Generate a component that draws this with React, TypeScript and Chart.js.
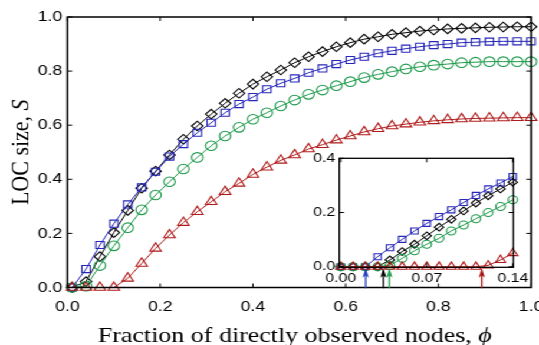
import React, { useEffect, useRef } from 'react';
import { Chart, registerables } from 'chart.js';

Chart.register(...registerables);

// ---------- data ----------
const phiMain = [0.01, 0.04, 0.07, 0.10, 0.13, 0.16, 0.19, 0.22, 0.25, 0.28, 0.31, 0.34, 0.37, 0.40, 0.43, 0.46, 0.49,
  0.52, 0.55, 0.58, 0.61, 0.64, 0.67, 0.70, 0.73, 0.76, 0.79, 0.82, 0.85, 0.88, 0.91, 0.94, 0.97, 1.00];

const mainBlack = [0, 0.022, 0.114, 0.203, 0.285, 0.367, 0.430, 0.490, 0.548, 0.597, 0.641, 0.681, 0.718, 0.752, 0.779,
  0.804, 0.831, 0.853, 0.872, 0.890, 0.905, 0.918, 0.927, 0.936, 0.942, 0.948, 0.952, 0.956, 0.958, 0.960, 0.962, 0.963, 0.964, 0.964];
const mainBlue = [0, 0.068, 0.157, 0.236, 0.307, 0.370, 0.428, 0.484, 0.530, 0.572, 0.609, 0.646, 0.678, 0.704, 0.733,
  0.755, 0.773, 0.794, 0.810, 0.826, 0.841, 0.853, 0.866, 0.875, 0.883, 0.890, 0.896, 0.900, 0.905, 0.907, 0.909, 0.910, 0.910, 0.910];
const mainGreen = [0, 0.005, 0.081, 0.154, 0.221, 0.287, 0.342, 0.391, 0.438, 0.481, 0.524, 0.560, 0.592, 0.622, 0.646,
  0.671, 0.693, 0.714, 0.730, 0.746, 0.761, 0.776, 0.788, 0.798, 0.808, 0.816, 0.822, 0.826, 0.831, 0.833, 0.835, 0.835, 0.835, 0.835];
const mainRed = [0, 0, 0, 0, 0.034, 0.089, 0.145, 0.194, 0.240, 0.280, 0.317, 0.354, 0.385, 0.418, 0.445, 0.470, 0.490,
  0.512, 0.528, 0.545, 0.560, 0.575, 0.587, 0.597, 0.604, 0.611, 0.616, 0.620, 0.623, 0.625, 0.626, 0.627, 0.628, 0.628];

const phiInset = [0, 0.01, 0.02, 0.03, 0.04, 0.05, 0.06, 0.07, 0.08, 0.09, 0.10, 0.11, 0.12, 0.13, 0.14];
const insetBlack = [0, 0, 0, 0, 0.025, 0.056, 0.083, 0.114, 0.146, 0.175, 0.206, 0.235, 0.262, 0.287, 0.312];
const insetBlue = [0, 0, 0, 0.037, 0.070, 0.101, 0.132, 0.160, 0.185, 0.210, 0.237, 0.263, 0.287, 0.309, 0.333];
const insetGreen = [0, 0, 0, 0, 0.005, 0.031, 0.059, 0.083, 0.105, 0.132, 0.154, 0.177, 0.200, 0.222, 0.247];
const insetRed = [0, 0, 0, 0, 0, 0, 0, 0, 0, 0, 0, 0, 0.005, 0.025, 0.050];

// critical thresholds marked by arrows in the inset (blue, black, green, red)
const thresholdValues = [0.0203, 0.0347, 0.0396, 0.1148];

const mainXTicks = [0, 0.2, 0.4, 0.6, 0.8, 1.0];
const mainXTickLabels = ['0.0', '0.2', '0.4', '0.6', '0.8', '1.0'];
const mainYTicks = [0, 0.2, 0.4, 0.6, 0.8, 1.0];
const mainYTickLabels = ['0.0', '0.2', '0.4', '0.6', '0.8', '1.0'];
const insetXTicks = [0, 0.07, 0.14];
const insetXTickLabels = ['0.00', '0.07', '0.14'];
const insetYTicks = [0, 0.2, 0.4];
const insetYTickLabels = ['0.0', '0.2', '0.4'];

const xTitleText = 'Fraction of directly observed nodes, ';
const xTitleSymbol = '\u03D5';
const yTitleText = 'LOC size, ';
const yTitleSymbol = 'S';

// ---------- style ----------
const BLACK = '#000000';
const BLUE = '#2626b8';
const GREEN = '#1c9a4a';
const RED = '#b01a1a';
const ARROW_COLORS = ['#2040c0', '#000000', '#20a050', '#a81414'];

const W = 457; // internal width, stretched horizontally to 539
const H = 345;
const S = 539 / W;
const TICK_FONT = 'Liberation Sans';
const TITLE_FONT = 'Liberation Serif';

const pts = (xs: number[], ys: number[]) => xs.map((x, i) => ({ x, y: ys[i] }));

function frame(xTicks: number[], yTicks: number[], len: number, lw: number) {
  return {
    id: 'frame',
    afterDatasetsDraw(chart: any) {
      const { ctx, chartArea: a, scales } = chart;
      ctx.save();
      ctx.strokeStyle = '#000';
      ctx.lineWidth = lw;
      ctx.strokeRect(a.left, a.top, a.right - a.left, a.bottom - a.top);
      ctx.lineWidth = 1;
      ctx.beginPath();
      xTicks.forEach((v) => {
        const px = scales.x.getPixelForValue(v);
        ctx.moveTo(px, a.bottom); ctx.lineTo(px, a.bottom - len);
        ctx.moveTo(px, a.top); ctx.lineTo(px, a.top + len);
      });
      yTicks.forEach((v) => {
        const py = scales.y.getPixelForValue(v);
        ctx.moveTo(a.left, py); ctx.lineTo(a.left + len, py);
        ctx.moveTo(a.right, py); ctx.lineTo(a.right - len, py);
      });
      ctx.stroke();
      ctx.restore();
    },
  };
}

function drawMixed(ctx: CanvasRenderingContext2D, parts: [string, string][], cx: number, y: number, size: number) {
  const fonts = parts.map(([, st]) => `${st} ${size}px "${TITLE_FONT}"`);
  let total = 0;
  const widths = parts.map(([t], i) => { ctx.font = fonts[i]; const w = ctx.measureText(t).width; total += w; return w; });
  let x = cx - total / 2;
  ctx.textAlign = 'left';
  ctx.textBaseline = 'alphabetic';
  parts.forEach(([t], i) => { ctx.font = fonts[i]; ctx.fillText(t, x, y); x += widths[i]; });
}

const titlesPlugin = {
  id: 'titles',
  afterDraw(chart: any) {
    const { ctx, chartArea: a } = chart;
    ctx.save();
    ctx.fillStyle = '#000';
    drawMixed(ctx, [[xTitleText, 'normal'], [xTitleSymbol, 'italic']], (a.left + a.right) / 2 - 3.8, 341.5, 22);
    ctx.translate(24.2, (a.top + a.bottom) / 2);
    ctx.rotate(-Math.PI / 2);
    drawMixed(ctx, [[yTitleText, 'normal'], [yTitleSymbol, 'italic']], 0, 0, 22);
    ctx.restore();
  },
};

const whiteBg = {
  id: 'whiteBg',
  beforeDraw(chart: any) {
    const { ctx, chartArea: a } = chart;
    ctx.save();
    ctx.fillStyle = '#ffffff';
    ctx.fillRect(a.left, a.top, a.right - a.left, a.bottom - a.top);
    ctx.restore();
  },
};

const arrowsPlugin = {
  id: 'arrows',
  afterDraw(chart: any) {
    const { ctx, chartArea: a, scales } = chart;
    ctx.save();
    thresholdValues.forEach((t, i) => {
      const px = scales.x.getPixelForValue(t);
      const tip = a.bottom + 0.5;
      ctx.strokeStyle = ARROW_COLORS[i];
      ctx.fillStyle = ARROW_COLORS[i];
      ctx.lineWidth = 1.3;
      ctx.beginPath();
      ctx.moveTo(px, a.bottom + 21);
      ctx.lineTo(px, tip + 6);
      ctx.stroke();
      ctx.beginPath();
      ctx.moveTo(px, tip);
      ctx.lineTo(px - 2.6, tip + 10);
      ctx.lineTo(px, tip + 7.5);
      ctx.lineTo(px + 2.6, tip + 10);
      ctx.closePath();
      ctx.fill();
    });
    ctx.restore();
  },
};

function series(data: any[], color: string, style: string, r: number, order: number) {
  return {
    data,
    borderColor: color,
    backgroundColor: 'rgba(0,0,0,0)',
    pointBorderColor: color,
    pointBackgroundColor: 'rgba(0,0,0,0)',
    pointStyle: style,
    pointRadius: r,
    pointBorderWidth: 1.1,
    borderWidth: 1,
    tension: 0,
    clip: false,
    order,
  };
}

function scaleOpts(
  min: number, max: number, ticks: number[], labels: string[], font: number, pad: number,
  fit: (s: any) => void,
) {
  return {
    type: 'linear',
    min,
    max,
    grid: { display: false, drawTicks: false },
    border: { display: false },
    ticks: {
      font: { family: TICK_FONT, size: font },
      color: '#000',
      padding: pad,
      autoSkip: false,
      maxRotation: 0,
      callback: (_v: any, i: number) => labels[i],
    },
    afterBuildTicks: (s: any) => { s.ticks = ticks.map((v) => ({ value: v })); },
    afterFit: fit,
  };
}

export default function App() {
  const mainRef = useRef<HTMLCanvasElement>(null);
  const insetRef = useRef<HTMLCanvasElement>(null);

  useEffect(() => {
    const main = new Chart(mainRef.current as HTMLCanvasElement, {
      type: 'line',
      data: {
        datasets: [
          series(pts(phiMain, mainRed), RED, 'triangle', 5.6, 0),
          series(pts(phiMain, mainGreen), GREEN, 'circle', 4.8, 1),
          series(pts(phiMain, mainBlue), BLUE, 'rect', 5, 2),
          series(pts(phiMain, mainBlack), BLACK, 'rectRot', 4.8, 3),
        ] as any,
      },
      options: {
        animation: false,
        responsive: false,
        events: [],
        layout: { padding: { left: 0, top: 17, right: W - 532.5 / S, bottom: 0 } },
        plugins: { legend: { display: false }, tooltip: { enabled: false } },
        scales: {
          x: scaleOpts(0, 1, mainXTicks, mainXTickLabels, 15, 10, (s) => {
            s.height = H - 287.5; s.paddingLeft = 0; s.paddingRight = 0;
          }),
          y: scaleOpts(0, 1, mainYTicks, mainYTickLabels, 15, 4.5, (s) => {
            s.width = 67.5 / S; s.paddingTop = 0; s.paddingBottom = 0;
          }),
        } as any,
      },
      plugins: [frame(mainXTicks, mainYTicks, 4, 1.5), titlesPlugin],
    });

    const inset = new Chart(insetRef.current as HTMLCanvasElement, {
      type: 'line',
      data: {
        datasets: [
          series(pts(phiInset, insetRed), RED, 'triangle', 4.9, 0),
          series(pts(phiInset, insetGreen), GREEN, 'circle', 4, 1),
          series(pts(phiInset, insetBlue), BLUE, 'rect', 4.3, 2),
          series(pts(phiInset, insetBlack), BLACK, 'rectRot', 3.9, 3),
        ] as any,
      },
      options: {
        animation: false,
        responsive: false,
        events: [],
        layout: { padding: { left: 0, top: 13.3, right: 450 - 513.4 / S, bottom: 0 } },
        plugins: { legend: { display: false }, tooltip: { enabled: false } },
        scales: {
          x: scaleOpts(-0.0012, 0.1405, insetXTicks, insetXTickLabels, 13.5, 3, (s) => {
            s.height = 292 - 267.3; s.paddingLeft = 0; s.paddingRight = 0;
          }),
          y: scaleOpts(-0.002, 0.4, insetYTicks, insetYTickLabels, 13.5, 3.4, (s) => {
            s.width = 339.3 / S - 250; s.paddingTop = 0; s.paddingBottom = 0;
          }),
        } as any,
      },
      plugins: [whiteBg, frame(insetXTicks, insetYTicks, 4, 1.3), arrowsPlugin],
    });

    return () => {
      main.destroy();
      inset.destroy();
    };
  }, []);

  return (
    <div
      style={{
        position: 'absolute', left: 0, top: 0, width: W, height: H,
        transform: `scaleX(${S})`, transformOrigin: '0 0', background: '#fff',
      }}
    >
      <canvas ref={mainRef} width={W} height={H} style={{ position: 'absolute', left: 0, top: 0 }} />
      <canvas ref={insetRef} width={200} height={147} style={{ position: 'absolute', left: 250, top: 145 }} />
    </div>
  );
}
